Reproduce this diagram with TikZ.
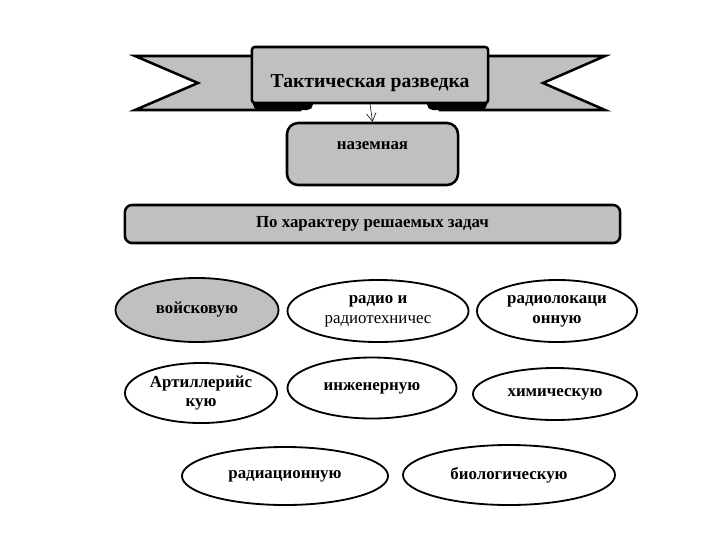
\documentclass[tikz,border=0pt]{standalone}
\usepackage{fontspec}
\setmainfont{Liberation Serif}
\usetikzlibrary{shapes.geometric, arrows.meta, positioning}

\definecolor{boxgray}{HTML}{C0C0C0}

\begin{document}
\begin{tikzpicture}[
  x=0.025cm, y=-0.025cm,
  banner/.style={rectangle, draw, line width=1.8pt, rounded corners=2pt, fill=boxgray, minimum width=5.9cm, minimum height=1.4cm, text height=0.66cm, text depth=0.04cm, font=\fontsize{14}{16}\selectfont\bfseries},
  tail/.style={draw, line width=1.8pt, fill=boxgray, line join=miter},
  fold/.style={fill=black, rounded corners=4pt},
  panel/.style={rectangle, draw, line width=1.8pt, rounded corners=8pt, fill=boxgray, align=center, font=\fontsize{12}{14}\selectfont\bfseries},
  kind/.style={ellipse, draw, line width=1.3pt, inner sep=0pt, align=center, font=\fontsize{12}{14}\selectfont\bfseries},
  arrow/.style={-{Straight Barb[length=2mm, width=2.4mm]}, thin}
]

  \useasboundingbox (0,0) rectangle (720,540);

  % ribbon tails and folds
  \path[tail] (135,56) -- (198,83) -- (135,110) -- (300,110) -- (300,56) -- cycle;
  \path[tail] (605,56) -- (543,83) -- (605,110) -- (440,110) -- (440,56) -- cycle;
  \fill[fold] (253,97) rectangle (313,110);
  \fill[fold] (427,97) rectangle (487,110);

  \node[banner] (title) at (370,75) {Тактическая разведка};

  \node[panel, minimum width=4.275cm, minimum height=1.55cm, text height=0.3cm, text depth=0.55cm] (ground) at (372.5,154) {наземная};
  \node[panel, rounded corners=5pt, minimum width=12.375cm, minimum height=0.95cm] (tasks) at (372.5,224) {По характеру решаемых задач};

  % kinds of reconnaissance
  \node[kind, fill=boxgray, minimum width=4.075cm, minimum height=1.6cm] (troop) at (197,310) {войсковую};
  \node[kind, minimum width=4.525cm, minimum height=1.55cm] (radio) at (378,311) {радио и\\{\mdseries радиотехничес}};
  \node[kind, minimum width=4cm, minimum height=1.55cm] (radar) at (557,311) {радиолокаци\\онную};

  \node[kind, minimum width=3.8cm, minimum height=1.5cm] (artil) at (201,393) {Артиллерийс\\кую};
  \node[kind, minimum width=4.225cm, minimum height=1.525cm] (engin) at (372,388) {инженерную};
  \node[kind, minimum width=4.1cm, minimum height=1.3cm] (chem) at (555,394) {химическую};

  \node[kind, minimum width=5.15cm, minimum height=1.45cm] (radiat) at (285,476) {радиационную};
  \node[kind, minimum width=5.3cm, minimum height=1.5cm] (bio) at (509,475) {биологическую};

  \draw[arrow] (title.south) -- (ground.north);

\end{tikzpicture}
\end{document}
